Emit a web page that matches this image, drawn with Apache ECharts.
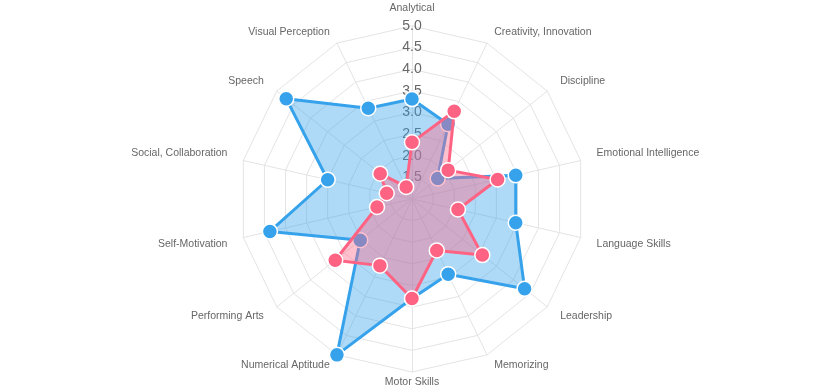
<!DOCTYPE html>
<html><head><meta charset="utf-8">
<script src="https://cdn.jsdelivr.net/npm/echarts@6/dist/echarts.min.js"></script>
<style>html,body{margin:0;padding:0;background:#fff}#c{width:826px;height:389px}</style>
</head><body><div id="c"></div>
<script>
// Categories in clockwise order starting from the top
const categories = ['Analytical','Creativity, Innovation','Discipline','Emotional Intelligence','Language Skills','Leadership','Memorizing','Motor Skills','Numerical Aptitude','Performing Arts','Self-Motivation','Social, Collaboration','Speech','Visual Perception'];
const blueValues = [3.31,2.92,1.76,3.46,3.46,4.33,2.93,3.30,5.00,2.53,4.37,3.00,4.72,3.33];
const redValues  = [2.31,3.25,2.07,3.03,2.09,3.08,2.32,3.30,2.71,3.27,1.83,1.60,1.94,1.31];
const scaleMin = 1, scaleMax = 5, scaleStep = 0.5;

const n = categories.length;
// ECharts radar runs counter-clockwise, so reverse everything after the first entry
const order = categories.map((_, k) => (n - k) % n);
const font = "'Liberation Sans', Arial, Helvetica, sans-serif";

const rich = {};
categories.forEach((name, i) => {
  const a = i * 2 * Math.PI / n, s = Math.sin(a), c = Math.cos(a);
  let pad;
  if (Math.abs(s) < 0.01) pad = c > 0 ? [0, 0, 7, 0] : [0, 0, 0, 0];
  else {
    const h = Math.round(11.5 * Math.abs(s));
    const top = c > 0 ? 0 : 12, bottom = c > 0 ? 13 : 0;
    pad = s > 0 ? [top, 0, bottom, h] : [top, h, bottom, 0];
  }
  rich['s' + i] = { fontSize: 10.5, color: '#666', fontFamily: font, padding: pad };
});

function radarSeries(values, rgb, z) {
  return {
    type: 'radar',
    z: z,
    symbol: 'circle',
    symbolSize: 15,
    data: [{
      value: order.map(i => values[i]),
      lineStyle: { color: 'rgb(' + rgb + ')', width: 3, opacity: 1 },
      areaStyle: { color: 'rgba(' + rgb + ',0.4)', opacity: 1 },
      itemStyle: { color: 'rgb(' + rgb + ')', borderColor: '#fff', borderWidth: 1.5, opacity: 1 }
    }]
  };
}

const chart = echarts.init(document.getElementById('c'), null, { renderer: 'canvas' });
chart.setOption({
  animation: false,
  backgroundColor: '#fff',
  grid: { left: 412, top: 26, height: 173, width: 10, z: 0 },
  xAxis: { type: 'value', show: false },
  yAxis: {
    type: 'value', min: scaleMin, max: scaleMax, interval: scaleStep, z: 0,
    axisLine: { show: false }, axisTick: { show: false }, splitLine: { show: false },
    axisLabel: {
      margin: 0, align: 'center', color: '#666', fontSize: 14, fontFamily: font,
      formatter: v => (v === scaleMin ? '' : v.toFixed(1))
    }
  },
  radar: {
    center: [412, 199],
    radius: 173,
    startAngle: 90,
    splitNumber: (scaleMax - scaleMin) / scaleStep,
    shape: 'polygon',
    nameGap: 5,
    indicator: order.map(i => ({ name: categories[i], min: scaleMin, max: scaleMax })),
    axisName: {
      formatter: (name) => '{s' + categories.indexOf(name) + '|' + name + '}',
      rich: rich
    },
    axisLine: { lineStyle: { color: '#e4e4e4', width: 1 } },
    splitLine: { lineStyle: { color: '#e4e4e4', width: 1 } },
    splitArea: { show: false },
    axisLabel: { show: false },
    axisTick: { show: false }
  },
  series: [
    radarSeries(blueValues, '54,162,235', 2),
    radarSeries(redValues, '255,99,132', 3)
  ]
});
</script></body></html>
